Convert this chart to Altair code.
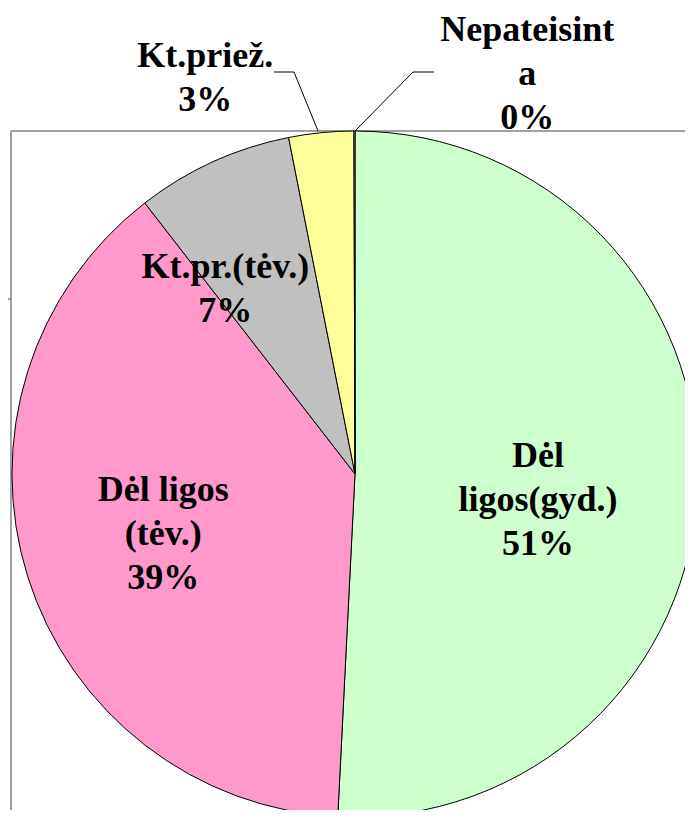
import altair as alt
import pandas as pd

categories = ["Dėl ligos(gyd.)", "Dėl ligos (tėv.)", "Kt.pr.(tėv.)", "Kt.priež.", "Nepateisinta"]
values = [50.8, 38.7, 7.4, 3.05, 0.05]
label_lines = [["Dėl", "ligos(gyd.)"], ["Dėl ligos", "(tėv.)"], ["Kt.pr.(tėv.)"], ["Kt.priež."], ["Nepateisint", "a"]]
colors = ["#CCFFCC", "#FF99CC", "#C0C0C0", "#FFFF99", "#99CCFF"]

labels = ["\n".join(l + [f"{round(v)}%"]) for l, v in zip(label_lines, values)]
df = pd.DataFrame({"cat": categories, "value": values, "order": list(range(len(values))), "label": labels})

W, H = 677, 802
CX, CY, R = 347, 466, 343
FONT = "Liberation Serif"

base = (
    alt.Chart(df)
    .transform_window(cum="sum(value)", sort=[alt.SortField("order")], frame=[None, 0])
    .transform_joinaggregate(total="sum(value)")
    .transform_calculate(
        t0="2*PI*(datum.cum-datum.value)/datum.total",
        t1="2*PI*datum.cum/datum.total",
    )
    .transform_calculate(tm="(datum.t0+datum.t1)/2")
)

pie = base.mark_arc(radius=R, stroke="black", strokeWidth=1).encode(
    theta=alt.Theta("t0:Q", scale=None),
    theta2="t1:Q",
    color=alt.Color("cat:N", scale=alt.Scale(domain=categories, range=colors), legend=None),
    x=alt.value(CX),
    y=alt.value(CY),
)

one = pd.DataFrame({"a": [0]})


def seg(x1, y1, x2, y2, color="black", width=1.0):
    return alt.Chart(one).mark_rule(color=color, strokeWidth=width).encode(
        x=alt.value(x1), y=alt.value(y1), x2=alt.value(x2), y2=alt.value(y2)
    )


border = [
    seg(3, 123, W, 123, "#808080", 1.5),
    seg(3, 123, 3, H, "#808080", 1.5),
    seg(0, 291, 3, 291, "#808080", 1.5),
]
leaders = [
    seg(266, 64, 286, 64),
    seg(286, 64, 310, 123),
    seg(405, 64, 426, 64),
    seg(405, 64, 347, 123),
]

# label placement: radius from centre plus small offsets
placement = {
    "Dėl ligos(gyd.)": (185, -2, -23),
    "Dėl ligos (tėv.)": (201, 0, -44),
    "Kt.pr.(tėv.)": (226, -36, -1),
    "Kt.priež.": (423, -108, 3),
    "Nepateisinta": (400, 173, -44),
}
texts = []
for c in categories:
    r, dx, dy = placement[c]
    texts.append(
        base.transform_filter(alt.datum.cat == c)
        .mark_text(
            radius=r, dx=dx, dy=dy, font=FONT, fontWeight="bold", fontSize=36,
            lineBreak="\n", lineHeight=44, align="center", baseline="middle", color="black",
        )
        .encode(
            theta=alt.Theta("tm:Q", scale=None),
            text="label:N",
            x=alt.value(CX),
            y=alt.value(CY),
        )
    )

chart = (
    alt.layer(*border, pie, *leaders, *texts)
    .properties(width=W, height=H, autosize=alt.AutoSizeParams(type="none"), padding=0)
    .configure_view(stroke=None)
)

chart.save("out.html", embed_options={"renderer": "svg", "actions": False})
